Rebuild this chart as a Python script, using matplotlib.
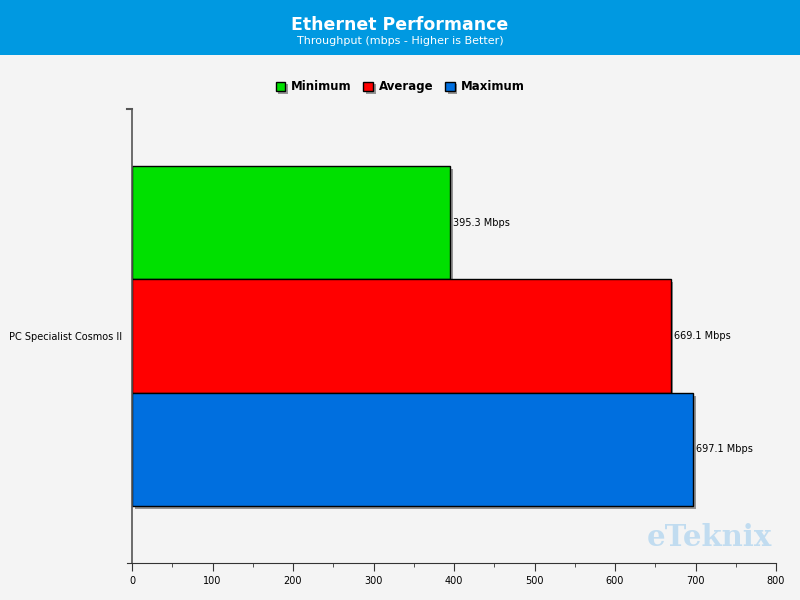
import matplotlib
matplotlib.use('Agg')
import matplotlib.pyplot as plt
import matplotlib.patheffects as pe
from matplotlib.ticker import MultipleLocator

# Data
category = 'PC Specialist Cosmos II'
series = ['Minimum', 'Average', 'Maximum']
values = [395.3, 669.1, 697.1]
colors = ['#00e000', '#ff0000', '#006fdf']

bg = '#f4f4f4'
fig = plt.figure(figsize=(8, 6), dpi=100, facecolor=bg)

# Header band
fig.patches.append(plt.Rectangle((0, 1 - 55 / 600), 1, 55 / 600, transform=fig.transFigure,
                                 facecolor='#0099e1', edgecolor='none', zorder=0))
fig.text(0.5, 0.958, 'Ethernet Performance', ha='center', va='center', color='white',
         fontsize=12.5, fontweight='bold')
fig.text(0.5, 0.931, 'Throughput (mbps - Higher is Better)', ha='center', va='center',
         color='white', fontsize=8)

ax = fig.add_axes([132 / 800, 37 / 600, 644 / 800, 454 / 600])
ax.set_facecolor(bg)

bar_h = 0.25
offsets = [bar_h, 0, -bar_h]
shadow = [pe.SimplePatchShadow(offset=(2, -2), shadow_rgbFace='#555555', alpha=0.6), pe.Normal()]
for name, val, col, off in zip(series, values, colors, offsets):
    b = ax.barh(off, val, height=bar_h, color=col, edgecolor='black', linewidth=1, label=name)
    b[0].set_path_effects(shadow)
    ax.text(val + 4, off, f'{val:.1f} Mbps', va='center', ha='left', fontsize=7)

ax.set_xlim(0, 800)
ax.set_ylim(-0.5, 0.5)
ax.set_yticks([0])
ax.set_yticklabels([category], fontsize=7)
ax.tick_params(axis='y', length=0, pad=7)

# small tick at the top of the y axis
ax.plot([-6, 0], [0.5, 0.5], color='#555555', lw=1.5, clip_on=False)

ax.xaxis.set_major_locator(MultipleLocator(100))
ax.xaxis.set_minor_locator(MultipleLocator(50))
ax.tick_params(axis='x', which='major', length=6, labelsize=7, color='#333333')
ax.tick_params(axis='x', which='minor', length=3, color='#333333')
for s in ['top', 'right']:
    ax.spines[s].set_visible(False)
ax.spines['left'].set_color('#555555')
ax.spines['left'].set_linewidth(1.2)
ax.spines['bottom'].set_color('#333333')
ax.spines['bottom'].set_bounds(-6, 800)
ax.set_xlim(0, 800)

fig.legend(loc='center', bbox_to_anchor=(0.5, 1 - 87 / 600), ncol=3, frameon=False,
           prop={'weight': 'bold', 'size': 8.5}, handlelength=0.8, handleheight=0.9,
           handletextpad=0.5, columnspacing=1.0)

# Watermark
fig.text(0.887, 1 - 537 / 600, 'eTeknix', ha='center', va='center', fontsize=21,
         fontweight='heavy', family='DejaVu Serif', color='#bcdaf0', alpha=0.9)

fig.savefig('out.png', dpi=100, facecolor=bg)
